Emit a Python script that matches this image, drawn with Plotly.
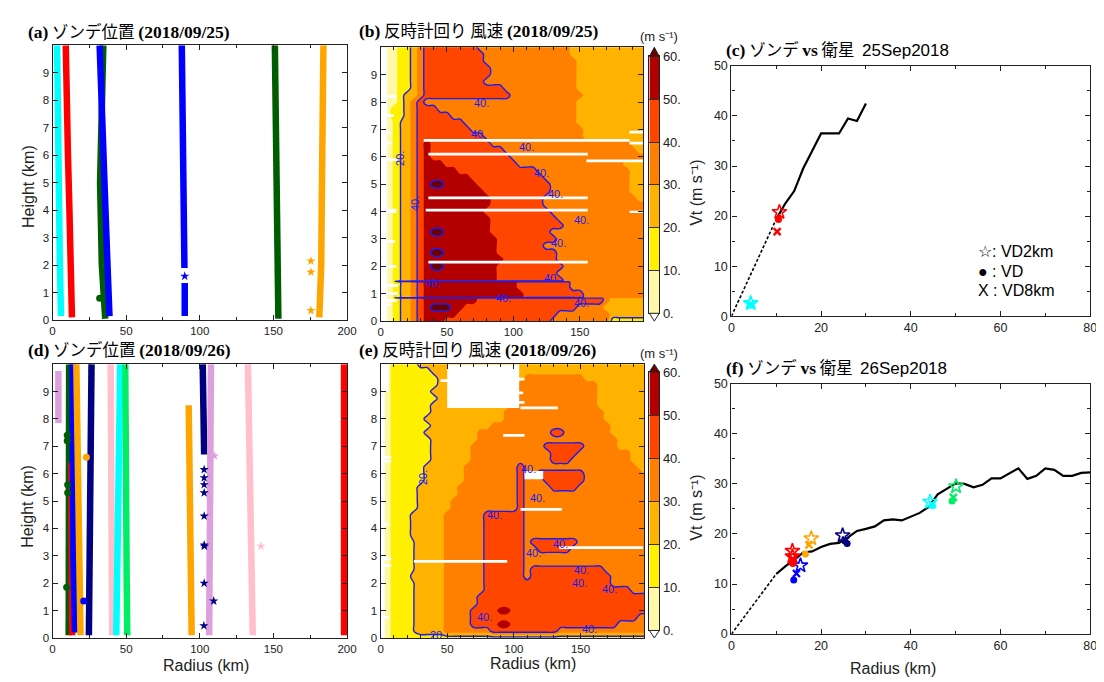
import plotly.graph_objects as go

W, H = 1104, 682


def px(x):
    return x / W


def py(y):
    return 1 - y / H


# ---------------- shared wind-speed bands ----------------
band_colors = ['#FFF8A8', '#FFF000', '#FFB200', '#FF8000', '#FF4600', '#B20000', '#6A0000']
cbar_levels = [0, 10, 20, 30, 40, 50, 60]
cbar_text = ['0.', '10.', '20.', '30.', '40.', '50.', '60.']
grid_r = [0, 5, 10, 15, 20, 25, 30, 35, 40, 45, 50, 55, 60, 65, 70, 75, 80, 85, 90, 95, 100,
          105, 110, 115, 120, 125, 130, 135, 140, 145, 150, 155, 160, 165, 170, 175, 180, 185,
          190, 195, 200]

# ---------------- (a) sonde positions 2018/09/25 ----------------
a_colors = ['#00FFFF', '#FF0000', '#005C00', '#0000FF', '#0000FF', '#0000FF', '#005C00', '#FFA500']
a_track_r = [[3.1, 3.4, 4.0, 5.0, 5.8], [9.0, 9.3, 10.5, 11.5, 12.5, 13.2],
             [34.5, 33.0, 32.3, 33.5, 35.8], [32.0, 33.5, 35.3, 37.0, 38.7],
             [87.8, 88.2, 89.0, 90.0, 89.6], [89.8, 89.8],
             [151.0, 151.5, 152.3, 153.0, 153.4], [184.0, 184.0, 183.0, 182.5, 181.2]]
a_track_h = [[10, 7, 4, 2, 0.15], [10, 8, 6, 4, 2, 0.1], [10, 7, 5, 2, 0.05],
             [10, 7, 5, 2.5, 0.15], [10, 7.5, 5, 3, 1.9], [1.35, 0.15],
             [10, 7, 4, 2, 0.05], [10, 7, 5, 2, 0.1]]
a_pt_r = [89.8, 175.5, 175.5, 175.5, 32.0]
a_pt_h = [1.6, 2.15, 1.75, 0.35, 0.8]
a_pt_color = ['#0000FF', '#FFA500', '#FFA500', '#FFA500', '#005C00']
a_pt_symbol = ['star', 'star', 'star', 'star', 'circle']

# ---------------- (d) sonde positions 2018/09/26 ----------------
d_colors = ['#DDA0DD', '#005C00', '#FF0000', '#0000FF', '#FFA500', '#000080', '#FFC0CB',
            '#00FFFF', '#00EE66', '#FFA500', '#000080', '#DDA0DD', '#FFC0CB', '#FF0000']
d_track_r = [[4.0, 4.0], [11.3, 11.0, 10.5, 10.5, 11.0], [12.8, 13.0, 13.4],
             [13.6, 13.8, 14.2, 15.3], [16.2, 16.8, 17.6, 18.5, 19.0], [26.5, 26.0, 25.0, 24.7],
             [39.5, 39.8, 40.5], [46.0, 45.0, 44.0, 43.3], [49.4, 49.5, 50.4, 50.8],
             [92.5, 93.0, 94.0, 94.5], [102.0, 102.6, 103.0], [107.6, 107.0, 106.2, 106.4],
             [132.7, 133.8, 135.0, 135.8, 136.0], [198.0, 198.0, 198.0]]
d_track_h = [[9.75, 7.85], [10, 7, 4, 1.5, 0.1], [6.4, 3, 0.1], [10, 6, 3, 0.2],
             [10, 7, 4, 1.5, 0.1], [10, 6, 3, 0.1], [10, 5, 0.1], [10, 6, 3, 0.1],
             [10, 5, 2, 0.1], [8.5, 5, 2, 0.1], [10, 8, 6.7], [10, 6, 3, 0.1],
             [10, 7, 4, 1, 0.1], [10, 5, 0.1]]
d_pt_r = [21.2, 23.0, 10.0, 10.0, 10.3, 10.3, 9.6, 103.0, 103.0, 103.0, 103.0, 103.0, 103.0,
          103.2, 103.0, 102.8, 109.5, 141.5, 110.0]
d_pt_h = [1.35, 6.6, 7.4, 7.2, 5.6, 5.3, 1.85, 6.15, 5.85, 5.6, 5.3, 4.45, 3.4, 3.35, 2.0,
          0.45, 1.35, 3.35, 6.65]
d_pt_color = ['#0000FF', '#FFA500', '#005C00', '#005C00', '#005C00', '#005C00', '#005C00',
              '#000080', '#000080', '#000080', '#000080', '#000080', '#000080', '#000080',
              '#000080', '#000080', '#000080', '#FFC0CB', '#DDA0DD']
d_pt_symbol = ['circle', 'circle', 'circle', 'circle', 'circle', 'circle', 'circle',
               'star', 'star', 'star', 'star', 'star', 'star', 'star', 'star', 'star', 'star',
               'star', 'star']

# ---------------- (b) counter-clockwise wind 2018/09/25 ----------------
# each row: "band*count" runs along grid_r (band k = 10k..10k+10 m/s, 6 = above 60;
# fractional bands sit between two levels, e.g. 1.5 = exactly 20 m/s)
b_heights = [10.0, 9.75, 9.5, 9.25, 9.0, 8.75, 8.5, 8.25, 8.0, 7.75, 7.5, 7.25, 7.0, 6.75,
             6.5, 6.25, 6.0, 5.75, 5.5, 5.25, 5.0, 4.75, 4.5, 4.25, 4.0, 3.75, 3.5, 3.25,
             3.0, 2.75, 2.5, 2.25, 2.0, 1.75, 1.5, 1.48, 1.45, 1.42, 1.25, 1.0, 0.87, 0.85,
             0.83, 0.75, 0.5, 0.25, 0.0]
b_rows = [
    "0*3 1*2 2*1 3*1 4*8 3*14 2*12",
    "0*3 1*2 2*1 3*1 4*9 3*13 2*12",
    "0*3 1*2 2*1 3*1 4*9 3*14 2*11",
    "0*3 1*2 2*1 3*1 4*10 3*13 2*11",
    "0*3 1*2 2*1 3*1 4*10 3*13 2*11",
    "0*3 1*2 2*1 3*1 4*9 3*14 2*11",
    "0*3 1*2 2*1 3*1 4*12 3*11 2*11",
    "0*3 1*1 2*2 3*1 4*13 3*11 2*10",
    "0*3 1*1 2*1 3*1 4*1 3*23 2*11",
    "0*2 1*2 2*1 3*1 4*3 3*21 2*11",
    "0*2 1*2 2*1 3*1 4*5 3*19 2*11",
    "0*2 0.6*1 1.5*1 2*1 3*1 4*7 3*17 2*11",
    "0*2 0.6*1 1.5*1 2*1 3*1 4*8 3*17 2*10",
    "0*2 0.6*1 1.5*1 2*1 3*1 4*10 3*15 2*10",
    "0*2 0.6*1 1.5*1 2*1 3*1 4*1 5*1 4*9 3*21 2*3",
    "0*2 0.6*1 1.5*1 2*1 3*1 4*1 5*1 4*11 3*20 2*2",
    "0*2 0.6*1 1.5*1 2*1 3*1 4*1 5*1 4*12 3*21",
    "0*2 0.6*1 1.5*1 2*1 3*1 4*1 5*3 4*11 3*16 2*4",
    "0*2 0.6*1 1.5*1 2*1 3*1 4*1 5*5 4*12 3*14 2*3",
    "0*2 0.6*1 1.5*1 2*1 3*1 4*1 5*7 4*11 3*13 2*3",
    "0*2 0.6*1 1.5*1 2*1 3*1 4*1 5*1 6*2 5*5 4*11 3*12 2*3",
    "0*2 0.6*1 1.5*1 2*1 3*1 4*1 5*9 4*10 3*12 2*3",
    "0*2 0.6*1 1.5*1 2*1 3*1 4*1 5*10 4*8 3*14 2*2",
    "0*2 0.6*1 1.5*1 2*1 3*1 4*1 5*10 4*8 3*16",
    "0*2 0.6*1 1.5*1 2*1 3*1 4*1 5*9 4*10 3*15",
    "0*2 0.6*1 1.5*1 2*1 3*1 4*1 5*10 4*10 3*14",
    "0*2 0.6*1 1.5*1 2*1 3*1 4*1 5*10 4*11 3*13",
    "0*2 0.6*1 1.5*1 2*1 3*1 4*1 5*1 6*2 5*7 4*9 3*15",
    "0*2 0.6*1 1.5*1 2*1 3*1 4*1 5*11 4*9 3*14",
    "0*2 0.6*1 1.5*1 2*1 3*1 4*1 5*11 4*7 3*16",
    "0*2 0.6*1 1.5*1 2*1 3*1 4*1 5*1 6*2 5*8 4*9 3*14",
    "0*2 0.6*1 1.5*1 2*1 3*1 4*1 5*12 4*8 3*14",
    "0*2 0.6*1 1.5*1 2*1 3*1 4*1 5*1 6*2 5*8 4*10 3*13",
    "0*2 0.6*1 1.5*1 2*1 3*1 4*1 5*11 4*9 3*14",
    "0*2 0.6*1 1.5*1 2*1 3*1 4*1 5*11 4*10 3*13",
    "0*2 0.6*1 1.5*1 2*1 3*1 4*1 5*11 4*10 3*13",
    "0*2 1*1 4*3 3*35",
    "0*2 0.6*1 1.5*1 2*1 3*1 4*1 5*14 4*8 3*12",
    "0*2 0.6*1 1.5*1 2*1 3*1 4*1 5*14 4*8 3*12",
    "0*2 0.6*1 1.5*1 2*1 3*1 4*1 5*15 4*9 3*10",
    "0*2 0.6*1 1.5*1 2*1 3*1 4*1 5*15 4*9 3*10",
    "0*2 1*1 4*3 3*35",
    "0*2 0.6*1 1.5*1 2*1 3*1 4*1 5*8 4*19 3*1 2*6",
    "0*2 0.6*1 1.5*1 2*1 3*1 4*1 5*8 4*19 3*1 2*6",
    "0*2 0.6*1 1.5*1 2*1 3*1 4*1 5*1 6*3 5*2 4*17 3*4 2*7",
    "0*2 0.6*1 1.5*1 2*1 3*1 4*1 5*5 4*15 3*8 2*6",
    "0*2 0.6*1 1.5*1 2*1 3*1 4*1 5*3 4*16 3*9 1*6",
]
# missing-data areas (r0, r1, h0, h1)
b_missing = [(0, 5, 0, 10), (0, 12, 8.15, 8.25), (0, 10, 7.45, 7.55), (0, 8, 6.85, 6.95),
             (0, 8, 6.45, 6.55), (0, 13, 5.85, 5.95), (0, 12, 3.95, 4.1), (0, 11, 2.85, 2.95),
             (0, 12, 1.95, 2.05), (0, 13, 1.25, 1.35), (0, 13, 0.95, 1.05), (0, 12, 0.7, 0.8),
             (0, 8, 0.55, 0.65), (32.5, 187.5, 6.55, 6.65), (187.5, 200, 6.45, 6.55),
             (187.5, 200, 6.85, 6.95), (36, 156, 6.05, 6.15), (155, 200, 5.8, 5.9),
             (36, 156, 4.45, 4.55), (34, 156, 4.0, 4.1), (187.5, 200, 3.95, 4.03),
             (36, 156, 2.1, 2.2)]
b_lab_r = [76, 74, 110, 121, 132, 151, 134, 129, 40, 92.5, 151, 15, 26]
b_lab_h = [7.98, 6.83, 6.35, 5.4, 4.66, 3.7, 2.85, 1.57, 1.4, 0.83, 0.65, 5.94, 4.28]
b_lab_text = ['40.', '40.', '40.', '40.', '40.', '40.', '40.', '40.', '40.', '40.', '40.', '20.', '40.']
b_lab_vertical = [False] * 11 + [True, True]

# ---------------- (e) counter-clockwise wind 2018/09/26 ----------------
e_heights = [10.0, 9.75, 9.5, 9.25, 9.0, 8.75, 8.5, 8.25, 8.0, 7.75, 7.5, 7.25, 7.0, 6.75,
             6.5, 6.25, 6.0, 5.75, 5.5, 5.25, 5.0, 4.75, 4.5, 4.25, 4.0, 3.75, 3.5, 3.25,
             3.0, 2.75, 2.5, 2.25, 2.0, 1.75, 1.5, 1.25, 1.0, 0.75, 0.5, 0.25, 0.0]
e_rows = [
    "0*2 1*4 2*35",
    "0*2 1*6 2*33",
    "0*2 1*7 2*13 3*9 2*10",
    "0*2 1*7 2*12 3*12 2*8",
    "0*2 1*6 2*13 3*12 2*8",
    "0*2 1*7 2*12 3*12 2*8",
    "0*2 1*6 2*12 3*13 2*8",
    "0*2 1*6 2*11 3*15 2*7",
    "0*2 1*5 2*12 3*15 2*7",
    "0*2 1*6 2*9 3*18 2*6",
    "0*2 1*5 2*8 3*11 4*2 3*7 2*6",
    "0*2 1*6 2*7 3*21 2*5",
    "0*2 1*6 2*6 3*11 4*6 3*5 2*5",
    "0*2 1*6 2*6 3*12 4*4 3*8 2*3",
    "0*2 1*6 2*6 3*12 4*3 3*9 2*3",
    "0*2 1*5 2*6 3*8 4*1 3*17 2*2",
    "0*2 1*5 2*6 3*8 4*1 3*2 4*7 3*9 2*1",
    "0*2 1*5 2*6 3*8 4*1 3*3 4*6 3*10",
    "0*2 1*4 2*6 3*9 4*1 3*4 4*4 3*11",
    "0*2 1*4 2*6 3*9 4*1 3*19",
    "0*2 1*4 2*5 3*10 4*1 3*19",
    "0*2 1*4 2*5 3*10 4*1 3*19",
    "0*2 1*3 2*5 3*6 4*6 3*19",
    "0*2 1*3 2*5 3*6 4*6 3*19",
    "0*2 1*3 2*5 3*6 4*6 3*19",
    "0*2 1*3 2*5 3*6 4*6 3*19",
    "0*2 1*3 1.5*1 2*4 3*6 4*6 3*1 4*7 3*11",
    "0*2 1*3 1.5*1 2*4 3*6 4*6 3*2 4*5 3*12",
    "0*2 1*3 1.5*1 2*4 3*6 4*6 3*19",
    "0*2 1*3 1.5*1 2*4 3*6 4*6 3*19",
    "0*2 1*3 1.5*1 2*4 3*6 4*6 3*1 4*11 3*7",
    "0*2 1*3 2*5 3*6 4*6 3*1 4*12 3*6",
    "0*2 1*3 1.5*1 2*4 3*6 4*19 3*6",
    "0*2 1*3 1.5*1 2*4 3*6 4*22 3*3",
    "0*2 1*3 1.5*1 2*4 3*5 4*26",
    "0*2 1*3 1.5*1 2*4 3*5 4*26",
    "0*2 1*3 1.5*1 2*4 3*4 4*4 5*2 4*21",
    "0*2 1*3 1.5*1 2*4 3*4 4*25 3*2",
    "0*2 1*3 1.5*1 2*4 3*4 4*4 5*2 4*16 3*5",
    "0*2 1*3 1.5*1 2*4 3*7 4*10 3*14",
    "0*2 1*39",
]
e_missing = [(0, 3, 0, 10), (0, 6, 9.0, 10), (50, 104, 8.4, 10), (45, 50, 9.35, 9.45),
             (104, 108, 9.4, 9.5), (104, 108, 8.55, 8.65), (104, 107, 8.9, 9.0),
             (105, 133, 8.35, 8.45), (92, 108, 7.35, 7.45), (105, 136, 4.65, 4.75),
             (134, 197, 3.25, 3.35), (25, 95, 2.75, 2.85), (108, 122, 5.8, 6.1),
             (0, 8, 6.55, 6.65), (0, 8, 6.42, 6.5), (0, 6, 4.1, 4.2), (0, 8, 2.85, 2.95),
             (0, 8, 2.6, 2.7), (0, 6, 0.7, 0.8)]
e_lab_r = [111, 117.5, 85.5, 135, 115, 151, 149.5, 171.6, 78, 157, 42.5, 32]
e_lab_h = [6.18, 5.1, 4.5, 3.45, 3.09, 2.49, 2.02, 1.78, 0.77, 0.33, 0.12, 5.85]
e_lab_text = ['40.', '40.', '40.', '40.', '40.', '40.', '40.', '40.', '40.', '40.', '20.', '20.']
e_lab_vertical = [False] * 11 + [True]

# ---------------- (c) sonde vs satellite 25Sep2018 ----------------
c_r = [10, 12, 14, 16, 18, 20, 22, 24, 26, 28, 30]
c_vt = [19.4, 22.5, 25.0, 29.5, 33.0, 36.5, 36.5, 36.5, 39.5, 39.0, 42.5]
c_colors = ['#00FFFF', '#FF0000']
c_vd2_r = [4.3, 10.7]
c_vd2_v = [2.6, 20.8]
c_vd_r = [4.2, 10.5]
c_vd_v = [2.2, 19.3]
c_vd8_r = [4.3, 10.2]
c_vd8_v = [2.4, 16.9]

# ---------------- (f) sonde vs satellite 26Sep2018 ----------------
f_r = [10, 12, 14, 16, 18, 20, 22, 24, 26, 28, 30, 32, 34, 36, 38, 40, 42, 44, 46, 48, 50,
       52, 54, 56, 58, 60, 62, 64, 66, 68, 70, 72, 74, 76, 78, 80]
f_vt = [12.0, 13.5, 14.8, 16.3, 16.5, 17.4, 18.0, 18.2, 19.3, 20.6, 21.0, 21.5, 22.7, 22.9,
        22.7, 23.4, 24.2, 25.4, 27.9, 29.0, 30.1, 30.0, 29.3, 29.8, 31.1, 31.1, 32.1, 33.1,
        31.0, 31.6, 33.1, 32.8, 31.6, 31.6, 32.2, 32.3]
f_colors = ['#FF0000', '#FF0000', '#0000FF', '#FFA500', '#000080', '#00FFFF', '#00EE66']
f_vd2_r = [13.6, 13.6, 15.4, 17.8, 24.8, 44.3, 50.1]
f_vd2_v = [16.6, 15.5, 13.7, 19.1, 19.7, 26.4, 29.5]
f_vd_r = [13.7, 13.7, 13.9, 16.5, 25.8, 44.8, 49.2]
f_vd_v = [14.1, 14.3, 10.8, 16.0, 18.1, 25.7, 26.6]
f_vd8_r = [13.7, 13.7, 14.5, 17.3, 25.5, 44.8, 49.5]
f_vd8_v = [15.0, 14.6, 12.1, 17.8, 18.75, 25.9, 27.3]


# ====================================================================
def decode(rows):
    z = []
    n = len(grid_r)
    for row in rows:
        vals = []
        for tok in row.split():
            code, count = tok.split('*')
            vals += [float(code) * 10 + 5] * int(count)
        vals = (vals + vals[-1:] * n)[:n]
        z.append(vals)
    return z


def rect_paths(rects):
    xs, ys = [], []
    for r0, r1, h0, h1 in rects:
        xs += [r0, r1, r1, r0, r0, None]
        ys += [h0, h0, h1, h1, h0, None]
    return xs, ys


step_scale = [[0, 'white'], [0.5 / 7, 'white']]
for k, c in enumerate(band_colors):
    step_scale += [[(k + 0.5) / 7, c], [min((k + 1.5) / 7, 1.0), c]]

LINE_BLUE = '#1c1cf0'
AXC = '#222222'
SANS = 'Liberation Sans'
SERIF = 'Liberation Serif'
JP = 'Noto Sans CJK JP'
UNIT = '(m s\u207b\u00b9)'

fig = go.Figure()


def add_tracks(track_r, track_h, colors, pr, ph, pc, ps, xa, ya):
    for r, h, c in zip(track_r, track_h, colors):
        fig.add_trace(go.Scatter(x=r, y=h, mode='lines', xaxis=xa, yaxis=ya,
                                 line=dict(color=c, width=6.5), hoverinfo='skip'))
    fig.add_trace(go.Scatter(x=pr, y=ph, mode='markers', xaxis=xa, yaxis=ya,
                             marker=dict(color=pc, symbol=ps, size=7, line=dict(width=0)),
                             hoverinfo='skip'))


add_tracks(a_track_r, a_track_h, a_colors, a_pt_r, a_pt_h, a_pt_color, a_pt_symbol, 'x', 'y')
add_tracks(d_track_r, d_track_h, d_colors, d_pt_r, d_pt_h, d_pt_color, d_pt_symbol, 'x4', 'y4')


def add_field(heights, rows, missing, xa, ya):
    z = decode(rows)[::-1]
    h = heights[::-1]
    fig.add_trace(go.Contour(x=grid_r, y=h, z=z, xaxis=xa, yaxis=ya, autocontour=False,
                             contours=dict(start=0, end=60, size=10, coloring='fill',
                                           showlines=False),
                             colorscale=step_scale, showscale=False, line=dict(width=0),
                             hoverinfo='skip'))
    fig.add_trace(go.Contour(x=grid_r, y=h, z=z, xaxis=xa, yaxis=ya, autocontour=False,
                             contours=dict(start=20, end=60, size=20, coloring='none'),
                             line=dict(color=LINE_BLUE, width=1.4), showscale=False,
                             hoverinfo='skip'))
    mx, my = rect_paths(missing)
    fig.add_trace(go.Scatter(x=mx, y=my, mode='lines', fill='toself', fillcolor='white',
                             line=dict(width=0, color='white'), xaxis=xa, yaxis=ya,
                             hoverinfo='skip'))


add_field(b_heights, b_rows, b_missing, 'x2', 'y2')
add_field(e_heights, e_rows, e_missing, 'x5', 'y5')


def add_vt(r, vt, colors, r2, v2, r1, v1, r8, v8, xa, ya):
    fig.add_trace(go.Scatter(x=[0, r[0]], y=[0, vt[0]], mode='lines', xaxis=xa, yaxis=ya,
                             line=dict(color='black', width=1.6, dash='3px,2px'),
                             hoverinfo='skip'))
    fig.add_trace(go.Scatter(x=r, y=vt, mode='lines', xaxis=xa, yaxis=ya,
                             line=dict(color='black', width=2.2), hoverinfo='skip'))
    fig.add_trace(go.Scatter(x=r2, y=v2, mode='markers', xaxis=xa, yaxis=ya,
                             marker=dict(symbol='star-open', size=11, color=colors,
                                         line=dict(width=1.6, color=colors)),
                             hoverinfo='skip'))
    fig.add_trace(go.Scatter(x=r1, y=v1, mode='markers', xaxis=xa, yaxis=ya,
                             marker=dict(symbol='circle', size=7, color=colors,
                                         line=dict(width=0)), hoverinfo='skip'))
    fig.add_trace(go.Scatter(x=r8, y=v8, mode='markers', xaxis=xa, yaxis=ya,
                             marker=dict(symbol='x-thin-open', size=7, color=colors,
                                         line=dict(width=2.4, color=colors)),
                             hoverinfo='skip'))


add_vt(c_r, c_vt, c_colors, c_vd2_r, c_vd2_v, c_vd_r, c_vd_v, c_vd8_r, c_vd8_v, 'x3', 'y3')
add_vt(f_r, f_vt, f_colors, f_vd2_r, f_vd2_v, f_vd_r, f_vd_v, f_vd8_r, f_vd8_v, 'x6', 'y6')

# colour bars (as their own small axes)
band_mid = [(cbar_levels[i] + cbar_levels[i + 1]) / 2 for i in range(6)]
cb_scale = [[k / 5, band_colors[k]] for k in range(6)]
for xa, ya in [('x7', 'y7'), ('x8', 'y8')]:
    fig.add_trace(go.Heatmap(x=[0.5], y=band_mid, z=[[k] for k in range(6)], zmin=0, zmax=5,
                             colorscale=cb_scale, showscale=False, xaxis=xa, yaxis=ya,
                             hoverinfo='skip'))


# ---------------- axes ----------------
def ax(domain, rng, dtick, minor=None, size=11.5, anchor=None, labels=True, tickvals=None,
       side=None):
    d = dict(domain=domain, range=rng, showline=True, linecolor=AXC, linewidth=1.2,
             mirror='ticks', ticks='inside', ticklen=5, tickwidth=1, tickcolor=AXC,
             showgrid=False, zeroline=False, fixedrange=True, showticklabels=labels,
             tickfont=dict(family=SANS, size=size, color=AXC), anchor=anchor)
    if tickvals is not None:
        d.update(tickmode='array', tickvals=tickvals)
    else:
        d.update(tickmode='linear', tick0=0, dtick=dtick)
    if minor:
        d['minor'] = dict(tickmode='linear', tick0=0, dtick=minor, ticks='inside', ticklen=3,
                          tickcolor=AXC, tickwidth=1)
    if side:
        d['side'] = side
    return d


hticks = [0, 1, 2, 3, 4, 5, 6, 7, 8, 9]
layout = dict(
    width=W, height=H, margin=dict(l=0, r=0, t=0, b=0), paper_bgcolor='white',
    plot_bgcolor='white', showlegend=False,
    xaxis=ax([px(42), px(340)], [0, 200], 50, 25, anchor='y'),
    yaxis=ax([py(312), py(31)], [0, 10], 1, anchor='x', tickvals=hticks),
    xaxis2=ax([px(374), px(640)], [0, 198], 50, 10, anchor='y2'),
    yaxis2=ax([py(313), py(33)], [0, 10], 1, anchor='x2', tickvals=hticks),
    xaxis3=ax([px(729), px(1092)], [0, 80], 20, 10, size=12.5, anchor='y3'),
    yaxis3=ax([py(308), py(52)], [0, 50], 10, 5, size=12.5, anchor='x3'),
    xaxis4=ax([px(42), px(340)], [0, 200], 50, 25, anchor='y4'),
    yaxis4=ax([py(637), py(357)], [0, 10], 1, anchor='x4', tickvals=hticks),
    xaxis5=ax([px(374), px(641)], [0, 198], 50, 10, anchor='y5'),
    yaxis5=ax([py(637), py(357)], [0, 10], 1, anchor='x5', tickvals=hticks),
    xaxis6=ax([px(729), px(1092)], [0, 80], 20, 10, size=12.5, anchor='y6'),
    yaxis6=ax([py(633), py(377)], [0, 50], 10, 5, size=12.5, anchor='x6'),
)
for n, (y0, y1) in [(7, (305, 42.4)), (8, (629.3, 365))]:
    layout['xaxis%d' % n] = dict(domain=[px(646), px(656)], range=[0, 1], showline=True,
                                 linecolor=AXC, linewidth=1, mirror=True, ticks='',
                                 showticklabels=False, showgrid=False, zeroline=False,
                                 fixedrange=True, anchor='y%d' % n)
    layout['yaxis%d' % n] = dict(domain=[py(y0), py(y1)], range=[0, 60], side='right',
                                 tickmode='array', tickvals=cbar_levels, ticktext=cbar_text,
                                 ticks='inside', ticklen=10, tickwidth=1, tickcolor='#333',
                                 showline=True, linecolor=AXC, linewidth=1, mirror=True,
                                 showgrid=False, zeroline=False, fixedrange=True,
                                 tickfont=dict(family=SANS, size=13, color=AXC),
                                 anchor='x%d' % n)
fig.update_layout(**layout)

# colour-bar end triangles
shapes = []
for top_base, top_apex, bot_base, bot_apex in [(42.4, 33, 305, 313), (365, 357, 629.3, 637)]:
    shapes.append(dict(type='path', xref='paper', yref='paper',
                       path='M %f %f L %f %f L %f %f Z' % (px(646), py(top_base), px(656),
                                                         py(top_base), px(651), py(top_apex)),
                       fillcolor=band_colors[6], line=dict(color=AXC, width=1)))
    shapes.append(dict(type='path', xref='paper', yref='paper',
                       path='M %f %f L %f %f L %f %f Z' % (px(646), py(bot_base), px(656),
                                                         py(bot_base), px(651), py(bot_apex)),
                       fillcolor='white', line=dict(color=AXC, width=1)))
fig.update_layout(shapes=shapes)

ann = []


def serif(t):
    return '<span style="font-family:%s;font-size:17.5px"><b>%s</b></span>' % (SERIF, t)


def sans(t):
    return '<span style="font-family:%s;font-size:17px">%s</span>' % (SANS, t)


def title(x, y, text):
    ann.append(dict(x=px(x), y=py(y), xref='paper', yref='paper', xanchor='left',
                    yanchor='middle', align='left', showarrow=False, text=text,
                    font=dict(family=JP, size=16.5, color='black')))


title(15, 16, serif('(a)') + ' ゾンデ位置 ' + serif('(2018/09/25)'))
title(350, 15, serif('(b)') + ' 反時計回り 風速 ' + serif('(2018/09/25)'))
title(721, 35, serif('(c)') + ' ゾンデ ' + serif('vs') + ' 衛星  ' + sans('25Sep2018'))
title(15, 342, serif('(d)') + ' ゾンデ位置 ' + serif('(2018/09/26)'))
title(350, 341, serif('(e)') + ' 反時計回り 風速 ' + serif('(2018/09/26)'))
title(721, 360, serif('(f)') + ' ゾンデ ' + serif('vs') + ' 衛星  ' + sans('26Sep2018'))


def label(x, y, text, angle=0, size=16):
    ann.append(dict(x=px(x), y=py(y), xref='paper', yref='paper', xanchor='center',
                    yanchor='middle', showarrow=False, text=text, textangle=angle,
                    font=dict(family=SANS, size=size, color=AXC)))


label(17, 175, 'Height (km)', -90)
label(17, 502, 'Height (km)', -90)
label(197, 665, 'Radius (km)')
label(528, 663, 'Radius (km)')
label(893, 668, 'Radius (km)')
label(694, 182, 'Vt ' + UNIT, -90)
label(694, 504, 'Vt ' + UNIT, -90)
label(656, 22, UNIT, size=13)
label(656, 346, UNIT, size=13)

for i, t in enumerate(['☆: VD2km', '● : VD', 'X : VD8km']):
    ann.append(dict(x=px(976), y=py(242 + 20 * i), xref='paper', yref='paper',
                    xanchor='left', yanchor='middle', align='left', showarrow=False, text=t,
                    font=dict(family=SANS, size=16, color='black')))

for xa, ya, rr, hh, tt, vv in [('x2', 'y2', b_lab_r, b_lab_h, b_lab_text, b_lab_vertical),
                               ('x5', 'y5', e_lab_r, e_lab_h, e_lab_text, e_lab_vertical)]:
    for r, h, t, v in zip(rr, hh, tt, vv):
        ann.append(dict(x=r, y=h, xref=xa, yref=ya, showarrow=False, text=t,
                        textangle=-90 if v else 0,
                        font=dict(family=SANS, size=11, color=LINE_BLUE)))

fig.update_layout(annotations=ann)
fig.write_html("out.html")
